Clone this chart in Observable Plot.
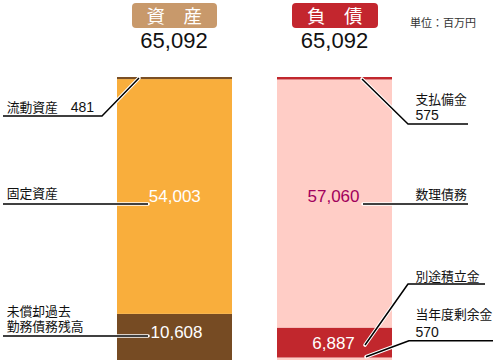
<!DOCTYPE html>
<html><head><meta charset="utf-8">
<script src="https://cdn.jsdelivr.net/npm/d3@7"></script>
<script src="https://cdn.jsdelivr.net/npm/@observablehq/plot@0.6"></script>
<style>
body{margin:0;background:#fff;font-family:"Noto Sans CJK JP","Noto Sans",sans-serif;}
#wrap{position:relative;width:496px;height:363px;overflow:hidden;background:#fff}
#head{position:relative;width:496px;height:60px}
.box{position:absolute;top:3px;height:25px;border-radius:4px;color:#fff;font-size:18.5px;line-height:25px;text-align:center;}
.total{position:absolute;top:30px;width:100px;font-family:"Liberation Sans",Arial,sans-serif;font-size:22px;line-height:22px;color:#111;text-align:center}
.unit{position:absolute;left:410px;top:17px;font-size:11px;line-height:11px;color:#333;white-space:nowrap}
svg{display:block}
</style></head>
<body>
<div id="wrap">
  <div id="head"></div>
</div>
<script>
// ---- data ----
const sides = ["資産", "負債"];
const sideTitles = ["資　産", "負　債"];
const sideTotals = [65092, 65092];
const unitLabel = "単位：百万円";
const assetItems = ["未償却過去勤務債務残高", "固定資産", "流動資産"];      // bottom -> top
const assetValues = [10608, 54003, 481];
const liabilityItems = ["当年度剰余金", "別途積立金", "数理債務", "支払備金"]; // bottom -> top
const liabilityValues = [570, 6887, 57060, 575];

// ---- styles ----
const headColors = ["#c8996b", "#c3262e"];
const assetColors = ["#764b23", "#f9ae3c", "#7a4f25"];
const liabilityColors = ["#ffcdc6", "#c1272d", "#ffcdc6", "#c1272d"];
const fmt = d3.format(",");

// stacked rows
function stack(side, items, values, colors) {
  let acc = 0;
  return items.map((item, i) => {
    const y0 = acc; acc += values[i];
    return {side, item, value: values[i], y0, y1: acc, mid: (y0 + acc) / 2, color: colors[i]};
  });
}
const rows = [
  ...stack(sides[0], assetItems, assetValues, assetColors),
  ...stack(sides[1], liabilityItems, liabilityValues, liabilityColors)
];
const rowOf = item => rows.find(r => r.item === item);

// ---- header (HTML above the svg) ----
const head = document.getElementById("head");
const boxPos = [{left: 131.7, width: 85.3}, {left: 291.7, width: 86}];
const totalPos = [124, 284.5];
sides.forEach((s, i) => {
  const b = document.createElement("div");
  b.className = "box";
  b.style.left = boxPos[i].left + "px";
  b.style.width = boxPos[i].width + "px";
  b.style.background = headColors[i];
  b.textContent = sideTitles[i];
  head.appendChild(b);
  const t = document.createElement("div");
  t.className = "total";
  t.style.left = totalPos[i] + "px";
  t.textContent = fmt(sideTotals[i]);
  head.appendChild(t);
});
const u = document.createElement("div");
u.className = "unit"; u.textContent = unitLabel; head.appendChild(u);

// ---- in-bar value labels (layout) ----
const valueLabels = [
  {item: "固定資産", anchor: "start", dx: -26.2, dy: 0, fill: "#ffffff"},
  {item: "未償却過去勤務債務残高", anchor: "start", dx: -24.5, dy: -5, fill: "#ffffff"},
  {item: "数理債務", anchor: "end", dx: 24.5, dy: -7.9, fill: "#a1005c"},
  {item: "別途積立金", anchor: "end", dx: 19.8, dy: 0.3, fill: "#ffffff"}
];

// ---- leader / outside label layout (pixel offsets) ----
const leaderLayout = [
  {item: "流動資産", lines: [["流動資産　", 481]], ax: 22, ay: 0, ly: 38, ex: 102, tx: 3, lx: 6.7, tb: 4, lh: 15},
  {item: "固定資産", lines: [["固定資産"]], ax: 31, ay: 7.5, ly: 0, tx: 3, lx: 6.7, tb: 5.5, lh: 15},
  {item: "未償却過去勤務債務残高", lines: [["未償却過去"], ["勤務債務残高"]], ax: 31, ay: -1, ly: 0, tx: 3, lx: 6.7, tb: 4.5, lh: 15},
  {item: "支払備金", lines: [["支払備金"], [575]], ax: 85, ay: 0.75, ly: 45, ex: 408, tx: 468, lx: 415.5, tb: 4, lh: 15.6},
  {item: "数理債務", lines: [["数理債務"]], ax: 86, ay: 0.5, ly: 0, tx: 468, lx: 415.5, tb: 5.5, lh: 15},
  {item: "別途積立金", lines: [["別途積立金"]], ax: 88, ay: 2.5, ly: -61, ex: 408, tx: 485, lx: 415.5, tb: 3, lh: 15},
  {item: "当年度剰余金", lines: [["当年度剰余金"], [570]], ax: 89, ay: -2, ly: -16, ex: 409, tx: 493, lx: 415.5, tb: 3.7, lh: 18.4}
];

function leaders(index, scales) {
  const x = scales.x, y = scales.y;
  const g = d3.create("svg:g");
  for (const L of leaderLayout) {
    const r = rowOf(L.item);
    const ax = x(r.side) + L.ax;
    const ay = y(r.mid) + L.ay;
    const ly = ay + L.ly;
    const pts = [[ax, ay]];
    if (L.ly !== 0) pts.push([L.ex, ly]);
    pts.push([L.tx, ly]);
    const path = d3.line()(pts);
    g.append("path").attr("d", path).attr("fill", "none").attr("stroke", "#fff")
      .attr("stroke-width", 3.6).attr("stroke-linejoin", "round").attr("stroke-linecap", "round");
    g.append("path").attr("d", path).attr("fill", "none").attr("stroke", "#000")
      .attr("stroke-width", 1.5).attr("stroke-linejoin", "round");
    const base = ly - L.tb;
    const n = L.lines.length;
    L.lines.forEach((parts, i) => {
      const t = g.append("text").attr("x", L.lx).attr("y", base - (n - 1 - i) * L.lh)
        .attr("text-anchor", "start").attr("fill", "#111");
      parts.forEach(p => {
        const isNum = typeof p === "number";
        t.append("tspan")
          .style("font-family", isNum ? '"Liberation Sans",Arial,sans-serif' : '"Noto Sans CJK JP","Noto Sans",sans-serif')
          .style("font-size", (isNum ? 14 : 12.8) + "px")
          .text(isNum ? fmt(p) : p);
      });
    });
  }
  return g.node();
}

const valueMarks = valueLabels.map(v => Plot.text([rowOf(v.item)], {
  x: "side", y: "mid", text: d => fmt(d.value),
  textAnchor: v.anchor, dx: v.dx, dy: v.dy, fill: v.fill,
  fontSize: 17, fontFamily: '"Liberation Sans", Arial, sans-serif'
}));

const chart = Plot.plot({
  width: 496, height: 303,
  marginTop: 17, marginBottom: 3, marginLeft: 0, marginRight: 0,
  style: {background: "#fff", overflow: "visible"},
  x: {type: "band", domain: sides, range: [117, 392], paddingInner: 0.28125, paddingOuter: 0, axis: null},
  y: {domain: [0, d3.max(sideTotals)], axis: null},
  marks: [
    Plot.barY(rows, {x: "side", y1: "y0", y2: "y1", fill: "color"}),
    leaders,
    ...valueMarks
  ]
});
document.getElementById("wrap").appendChild(chart);
</script>
</body></html>
